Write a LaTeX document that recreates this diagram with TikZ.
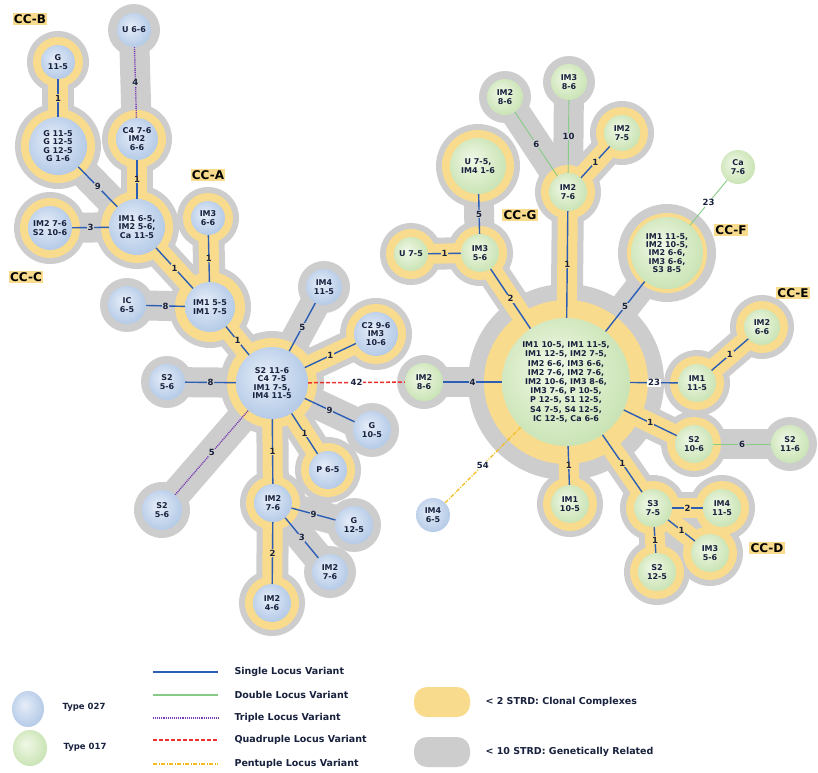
\documentclass[tikz,border=0pt]{standalone}
\usepackage{fontspec}
\setmainfont{DejaVu Sans}
\usetikzlibrary{shapes.geometric}

% drawing layers: background, grey halos, yellow halos, nodes/edges
\pgfdeclarelayer{bgl}
\pgfdeclarelayer{grayl}
\pgfdeclarelayer{yell}
\pgfsetlayers{bgl,grayl,yell,main}

\definecolor{haloyellow}{HTML}{F8DB8C}
\definecolor{halogray}{HTML}{CDCDCD}
\definecolor{ink}{HTML}{18213D}
\definecolor{blueA}{HTML}{E6EDF8}
\definecolor{blueB}{HTML}{BFD2EB}
\definecolor{blueC}{HTML}{8FAED9}
\definecolor{greenA}{HTML}{F1F8E8}
\definecolor{greenB}{HTML}{D2E8BF}
\definecolor{greenC}{HTML}{ABD494}
\definecolor{slvcol}{HTML}{2C5EB6}
\definecolor{dlvcol}{HTML}{86CB86}
\definecolor{tlvcol}{HTML}{7A3DB3}
\definecolor{qlvcol}{HTML}{E8302C}
\definecolor{plvcol}{HTML}{F2BC1C}

\pgfdeclareradialshading{bluenode}{\pgfpoint{-6bp}{6bp}}{color(0bp)=(blueA); color(22bp)=(blueB); color(50bp)=(blueC)}
\pgfdeclareradialshading{greennode}{\pgfpoint{-6bp}{6bp}}{color(0bp)=(greenA); color(22bp)=(greenB); color(50bp)=(greenC)}

\newcommand{\mstfont}{\bfseries\fontsize{8}{8.4}\selectfont}
\newcommand{\mbigfont}{\bfseries\fontsize{8}{9.2}\selectfont}
\newcommand{\medgefont}{\bfseries\fontsize{8.5}{8.5}\selectfont}
\newcommand{\mccfont}{\bfseries\fontsize{12}{12}\selectfont}
\newcommand{\mlegfont}{\bfseries\fontsize{9.5}{10}\selectfont}
\newcommand{\mtypefont}{\bfseries\fontsize{8.5}{9}\selectfont}

% yellow (clonal) and grey (related) halo around a node: node, yellow radius, grey radius
\newcommand{\halofull}[3]{%
  \begin{pgfonlayer}{grayl}\fill[halogray] (#1.center) circle[radius=#3pt];\end{pgfonlayer}%
  \begin{pgfonlayer}{yell}\fill[haloyellow] (#1.center) circle[radius=#2pt];\end{pgfonlayer}}
\newcommand{\halogr}[2]{%
  \begin{pgfonlayer}{grayl}\fill[halogray] (#1.center) circle[radius=#2pt];\end{pgfonlayer}}
% bands joining halos
\newcommand{\ylink}[2]{%
  \begin{pgfonlayer}{grayl}\draw[halogray, line width=32pt] (#1.center) -- (#2.center);\end{pgfonlayer}%
  \begin{pgfonlayer}{yell}\draw[haloyellow, line width=20pt] (#1.center) -- (#2.center);\end{pgfonlayer}}
\newcommand{\glink}[2]{%
  \begin{pgfonlayer}{grayl}\draw[halogray, line width=30pt] (#1.center) -- (#2.center);\end{pgfonlayer}}

\tikzset{
  nd/.style={circle, inner sep=0pt, align=center, text=ink, font=\mstfont, shade},
  t027/.style={nd, shading=bluenode},
  t017/.style={nd, shading=greennode},
  rad/.style={minimum size=#1pt*2},
  slv/.style={draw=slvcol, line width=1.4pt},
  dlv/.style={draw=dlvcol, line width=0.9pt},
  tlv/.style={draw=tlvcol, line width=1.4pt, dash pattern=on 1pt off 0.9pt},
  qlv/.style={draw=qlvcol, line width=1.5pt, dash pattern=on 4pt off 2pt},
  plv/.style={draw=plvcol, line width=1.3pt, dash pattern=on 4pt off 1.5pt on 1pt off 1.5pt},
  elab/.style={font=\medgefont, text=ink, inner sep=0.7pt},
  ey/.style={elab, fill=haloyellow},
  eg/.style={elab, fill=halogray},
  ew/.style={elab, fill=white},
  cclab/.style={font=\mccfont, fill=haloyellow, inner sep=1.3pt, text=black},
  legtext/.style={anchor=west, font=\mlegfont, text=ink},
  typetext/.style={anchor=west, font=\mtypefont, text=ink},
}

\begin{document}
\begin{tikzpicture}[x=1pt, y=-1pt]
\begin{pgfonlayer}{bgl}
  \fill[white] (0,0) rectangle (818,772);
\end{pgfonlayer}
\useasboundingbox (0,0) rectangle (818,772);

% ---------------- Type 027 network ----------------
\node[t027, rad=17] (u66) at (134,30) {U 6-6};
\node[t027, rad=17] (g115) at (58,62) {G\\11-5};
\node[t027, rad=29] (gmulti) at (58,146) {G 11-5\\G 12-5\\G 12-5\\G 1-6};
\node[t027, rad=21] (c476) at (137,139) {C4 7-6\\IM2\\6-6};
\node[t027, rad=28] (im165) at (137,227) {IM1 6-5,\\IM2 5-6,\\Ca 11-5};
\node[t027, rad=22] (im276a) at (50,228) {IM2 7-6\\S2 10-6};
\node[t027, rad=17] (im366) at (208,218) {IM3\\6-6};
\node[t027, rad=25] (im155) at (210,307) {IM1 5-5\\IM1 7-5};
\node[t027, rad=19] (ic65) at (127,305) {IC\\6-5};
\node[t027, rad=18] (im4115a) at (324,287) {IM4\\11-5};
\node[t027, rad=22] (c296) at (376,334) {C2 9-6\\IM3\\10-6};
\node[t027, rad=36] (cen1) at (272,383) {S2 11-6\\C4 7-5\\IM1 7-5,\\IM4 11-5};
\node[t027, rad=18] (s256a) at (167,382) {S2\\5-6};
\node[t027, rad=19] (g105) at (372,430) {G\\10-5};
\node[t027, rad=19] (p65) at (328,470) {P 6-5};
\node[t027, rad=19] (im276b) at (273,503) {IM2\\7-6};
\node[t027, rad=19] (g125) at (354,525) {G\\12-5};
\node[t027, rad=18] (im276c) at (330,572) {IM2\\7-6};
\node[t027, rad=19] (im246) at (272,603) {IM2\\4-6};
\node[t027, rad=20] (s256b) at (162,510) {S2\\5-6};
\node[t027, rad=17] (im465) at (433,515) {IM4\\6-5};

% ---------------- Type 017 network ----------------
\node[t017, rad=64, font=\mbigfont] (cen2) at (566,382)
  {IM1 10-5, IM1 11-5,\\IM1 12-5, IM2 7-5,\\IM2 6-6, IM3 6-6,\\IM2 7-6, IM2 7-6,\\IM2 10-6, IM3 8-6,\\IM3 7-6, P 10-5,\\P 12-5, S1 12-5,\\S4 7-5, S4 12-5,\\IC 12-5, Ca 6-6};
\node[t017, rad=19] (im286a) at (424,382) {IM2\\8-6};
\node[t017, rad=18] (im386) at (569,82) {IM3\\8-6};
\node[t017, rad=18] (im286b) at (505,97) {IM2\\8-6};
\node[t017, rad=18] (im275) at (622,133) {IM2\\7-5};
\node[t017, rad=19] (im276g) at (568,192) {IM2\\7-6};
\node[t017, rad=28] (u75im4) at (478,166) {U 7-5,\\IM4 1-6};
\node[t017, rad=17] (u75) at (411,254) {U 7-5};
\node[t017, rad=19] (im356) at (480,253) {IM3\\5-6};
\node[t017, rad=36] (ccf) at (667,253) {IM1 11-5,\\IM2 10-5,\\IM2 6-6,\\IM3 6-6,\\S3 8-5};
\node[t017, rad=17] (ca76) at (738,167) {Ca\\7-6};
\node[t017, rad=18] (im266) at (762,327) {IM2\\6-6};
\node[t017, rad=19] (im1115) at (697,383) {IM1\\11-5};
\node[t017, rad=19] (s2106) at (694,444) {S2\\10-6};
\node[t017, rad=19] (s2116) at (790,444) {S2\\11-6};
\node[t017, rad=19] (im1105) at (570,504) {IM1\\10-5};
\node[t017, rad=19] (s375) at (653,508) {S3\\7-5};
\node[t017, rad=19] (im4115g) at (722,508) {IM4\\11-5};
\node[t017, rad=19] (im356g) at (710,553) {IM3\\5-6};
\node[t017, rad=19] (s2125) at (657,572) {S2\\12-5};

% ---------------- halos ----------------
\halogr{u66}{26}
\halofull{g115}{25}{31}
\halofull{gmulti}{37}{43}
\halofull{c476}{29}{35}
\halofull{im165}{36}{42}
\halofull{im276a}{30}{36}
\halofull{im366}{25}{31}
\halofull{im155}{35}{41}
\halogr{ic65}{27}
\halogr{im4115a}{26}
\halofull{c296}{30}{36}
\halofull{cen1}{45}{52}
\halogr{s256a}{26}
\halogr{g105}{27}
\halofull{p65}{27}{33}
\halofull{im276b}{27}{33}
\halogr{g125}{27}
\halogr{im276c}{26}
\halofull{im246}{27}{33}
\halogr{s256b}{28}

\halofull{cen2}{82}{98}
\halogr{im286a}{27}
\halogr{im386}{26}
\halogr{im286b}{26}
\halofull{im275}{26}{32}
\halofull{im276g}{27}{33}
\halofull{u75im4}{36}{42}
\halofull{u75}{25}{31}
\halofull{im356}{27}{33}
\halofull{ccf}{40}{49}
\halofull{im266}{26}{32}
\halofull{im1115}{27}{33}
\halofull{s2106}{27}{33}
\halogr{s2116}{27}
\halofull{im1105}{27}{33}
\halofull{s375}{27}{33}
\halofull{im4115g}{27}{33}
\halofull{im356g}{27}{33}
\halofull{s2125}{27}{33}

% ---------------- bands ----------------
\ylink{g115}{gmulti}
\ylink{c476}{im165}
\ylink{im165}{im155}
\ylink{im366}{im155}
\ylink{im155}{cen1}
\ylink{c296}{cen1}
\ylink{p65}{cen1}
\ylink{im276b}{cen1}
\ylink{im276b}{im246}
\glink{u66}{c476}
\glink{gmulti}{im165}
\glink{im276a}{im165}
\glink{ic65}{im155}
\glink{im4115a}{cen1}
\glink{s256a}{cen1}
\glink{g105}{cen1}
\glink{s256b}{cen1}
\glink{im276b}{g125}
\glink{im276b}{im276c}

\ylink{im356}{cen2}
\ylink{im356}{u75}
\ylink{im276g}{cen2}
\ylink{im276g}{im275}
\ylink{im1115}{im266}
\ylink{s2106}{cen2}
\ylink{im1105}{cen2}
\ylink{s375}{cen2}
\ylink{s375}{im4115g}
\ylink{s375}{im356g}
\ylink{s375}{s2125}
\glink{im286a}{cen2}
\glink{im356}{u75im4}
\glink{im276g}{im286b}
\glink{im276g}{im386}
\glink{ccf}{cen2}
\glink{s2106}{s2116}

% ---------------- connectors ----------------
\draw[tlv] (u66) -- node[eg]{4} (c476);
\draw[slv] (g115) -- node[ey]{1} (gmulti);
\draw[slv] (gmulti) -- node[eg]{9} (im165);
\draw[slv] (c476) -- node[ey]{1} (im165);
\draw[slv] (im276a) -- node[eg]{3} (im165);
\draw[slv] (im165) -- node[ey]{1} (im155);
\draw[slv] (im366) -- node[ey]{1} (im155);
\draw[slv] (ic65) -- node[eg]{8} (im155);
\draw[slv] (im155) -- node[ey]{1} (cen1);
\draw[slv] (im4115a) -- node[eg]{5} (cen1);
\draw[slv] (c296) -- node[ey]{1} (cen1);
\draw[slv] (s256a) -- node[eg]{8} (cen1);
\draw[slv] (g105) -- node[eg]{9} (cen1);
\draw[slv] (p65) -- node[ey]{1} (cen1);
\draw[slv] (im276b) -- node[ey]{1} (cen1);
\draw[tlv] (s256b) -- node[eg]{5} (cen1);
\draw[slv] (im276b) -- node[eg]{9} (g125);
\draw[slv] (im276b) -- node[eg]{3} (im276c);
\draw[slv] (im276b) -- node[ey]{2} (im246);
\draw[qlv] (cen1) -- node[ew]{42} (im286a);

\draw[slv] (im286a) -- node[eg]{4} (cen2);
\draw[plv] (im465) -- node[ew]{54} (cen2);
\draw[slv] (im356) -- node[ey]{2} (cen2);
\draw[slv] (u75) -- node[ey]{1} (im356);
\draw[slv] (u75im4) -- node[eg]{5} (im356);
\draw[slv] (im276g) -- node[ey]{1} (cen2);
\draw[dlv] (im286b) -- node[eg]{6} (im276g);
\draw[dlv] (im386) -- node[eg]{10} (im276g);
\draw[slv] (im276g) -- node[ey]{1} (im275);
\draw[slv] (ccf) -- node[eg]{5} (cen2);
\draw[dlv] (ccf) -- node[ew]{23} (ca76);
\draw[slv] (cen2) -- node[ew]{23} (im1115);
\draw[slv] (im1115) -- node[ey]{1} (im266);
\draw[slv] (cen2) -- node[ey]{1} (s2106);
\draw[dlv] (s2106) -- node[eg]{6} (s2116);
\draw[slv] (cen2) -- node[ey]{1} (im1105);
\draw[slv] (cen2) -- node[ey]{1} (s375);
\draw[slv] (s375) -- node[ey]{2} (im4115g);
\draw[slv] (s375) -- node[ey]{1} (im356g);
\draw[slv] (s375) -- node[ey]{1} (s2125);

% ---------------- complex labels ----------------
\node[cclab] (ccb) at (30,19) {CC-B};
\node[cclab] (cca) at (208,175) {CC-A};
\node[cclab] (ccc) at (26,277) {CC-C};
\node[cclab] (ccg) at (520,215) {CC-G};
\node[cclab] (ccflab) at (731,230) {CC-F};
\node[cclab] (cce) at (793,293) {CC-E};
\node[cclab] (ccd) at (767,548) {CC-D};

% ---------------- legend ----------------
\node[ellipse, shade, shading=bluenode, minimum width=32pt, minimum height=36pt, inner sep=0pt] (legblue) at (28,709) {};
\node[ellipse, shade, shading=greennode, minimum width=34pt, minimum height=36pt, inner sep=0pt] (leggreen) at (30,748) {};
\node[typetext] (t027) at (59,707) {Type 027};
\node[typetext] (t017) at (60,747) {Type 017};

\coordinate (la1) at (153,672); \coordinate (lb1) at (218,672);
\coordinate (la2) at (153,695); \coordinate (lb2) at (218,695);
\coordinate (la3) at (153,718); \coordinate (lb3) at (218,718);
\coordinate (la4) at (153,740); \coordinate (lb4) at (218,740);
\coordinate (la5) at (153,764); \coordinate (lb5) at (218,764);
\draw[slv] (la1) -- (lb1);
\draw[dlv, line width=1.3pt] (la2) -- (lb2);
\draw[tlv] (la3) -- (lb3);
\draw[qlv] (la4) -- (lb4);
\draw[plv] (la5) -- (lb5);
\node[legtext] (l1) at (231,672) {Single Locus Variant};
\node[legtext] (l2) at (231,695) {Double Locus Variant};
\node[legtext] (l3) at (231,718) {Triple Locus Variant};
\node[legtext] (l4) at (231,740) {Quadruple Locus Variant};
\node[legtext] (l5) at (231,764) {Pentuple Locus Variant};

\node[rectangle, rounded corners=13pt, fill=haloyellow, minimum width=56pt, minimum height=30pt] (legy) at (442,702) {};
\node[rectangle, rounded corners=13pt, fill=halogray, minimum width=56pt, minimum height=30pt] (legg) at (442,752) {};
\node[legtext] (l6) at (482,702) {< 2 STRD: Clonal Complexes};
\node[legtext] (l7) at (482,752) {< 10 STRD: Genetically Related};
\end{tikzpicture}
\end{document}
